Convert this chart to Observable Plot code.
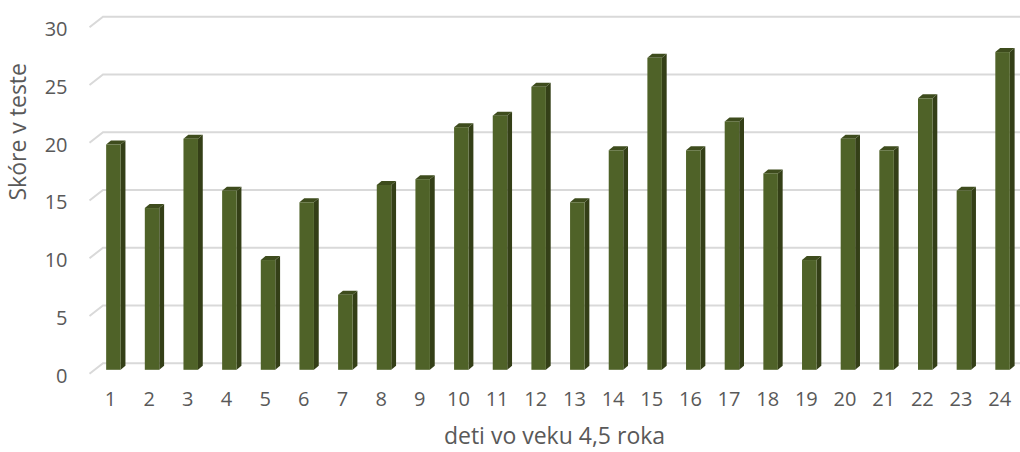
<!DOCTYPE html>
<html>
<head>
<meta charset="utf-8">
<script src="https://cdn.jsdelivr.net/npm/d3@7"></script>
<script src="https://cdn.jsdelivr.net/npm/@observablehq/plot@0.6"></script>
<style>
  html, body { margin: 0; padding: 0; background: #fff; }
  #chart { width: 1020px; height: 452px; }
</style>
</head>
<body>
<div id="chart"></div>
<script>
// Test scores of children aged 4.5 years
const children = d3.range(1, 25).map(String);
const scores = [19.5, 14, 20, 15.5, 9.5, 14.5, 6.5, 16, 16.5, 21, 22, 24.5,
                14.5, 19, 27, 19, 21.5, 17, 9.5, 20, 19, 23.5, 15.5, 27.5];
const yTicks = [0, 5, 10, 15, 20, 25, 30];
const xTitle = "deti vo veku 4,5 roka";
const yTitle = "Skóre v teste";

const data = children.map((child, i) => ({child, score: scores[i]}));

// Styling
const FONT = "'Open Sans', 'DejaVu Sans', sans-serif";
const TEXT = "#595959";
const GRID = "#d9d9d9";
const FRONT = "#4f6228";
const SIDE = "#343f17";
const CAP = "#3e4c1d";
const TICK_SIZE = 20, TITLE_SIZE = 23;

// Oblique depth of the wall (floor-to-back) and of each column
const WALL_DX = 13.5, WALL_DY = 10.5;
const COL_DX = 4.8, COL_DY = 4;
const COL_SHIFT_X = 3.4, COL_DROP_Y = 6.5;

// Gridlines drawn on the back wall, with the slanted segment on the left side wall
function wall(index, scales, values, dimensions) {
  const {y} = scales;
  const g = d3.create("svg:g").attr("fill", "none").attr("stroke", GRID).attr("stroke-width", 2);
  const xBack = dimensions.marginLeft + 36;
  const xEnd = dimensions.width;
  for (const i of index) {
    const yy = y(yTicks[i]);
    g.append("path").attr("d",
      `M${xBack - WALL_DX},${yy + WALL_DY}L${xBack},${yy}L${xEnd},${yy}`);
  }
  return g.node();
}

// 3D-looking columns: front face, right side and top cap
function prism(index, scales) {
  const {x, y} = scales;
  const bw = typeof x.bandwidth === "function" ? x.bandwidth() : x.bandwidth;
  const g = d3.create("svg:g");
  for (const i of index) {
    const d = data[i];
    const x0 = x(d.child) + COL_SHIFT_X, x1 = x0 + bw;
    const yb = y(0) + COL_DROP_Y, yt = y(d.score) + COL_DROP_Y;
    g.append("path").attr("fill", SIDE).attr("d",
      `M${x1},${yt}L${x1 + COL_DX},${yt - COL_DY}L${x1 + COL_DX},${yb - COL_DY}L${x1},${yb}Z`);
    g.append("path").attr("fill", CAP).attr("d",
      `M${x0},${yt}L${x0 + COL_DX},${yt - COL_DY}L${x1 + COL_DX},${yt - COL_DY}L${x1},${yt}Z`);
    g.append("rect").attr("fill", FRONT)
      .attr("x", x0).attr("y", yt).attr("width", bw).attr("height", yb - yt);
  }
  return g.node();
}

const chart = Plot.plot({
  width: 1020,
  height: 452,
  marginLeft: 67,
  marginRight: 0,
  marginTop: 16.7,
  marginBottom: 88.7,
  style: {fontFamily: FONT, background: "#fff", overflow: "visible"},
  x: {type: "band", domain: children, range: [90.67, 1018.5], paddingInner: 0.625, paddingOuter: 0.3125,
      round: false, axis: null},
  y: {domain: [0, 30], range: [363.3, 16.7], axis: null},
  marks: [
    Plot.ruleY(yTicks, {y: d => d, render: wall}),
    Plot.barY(data, {x: "child", y: "score", render: prism}),
    // y tick labels
    Plot.text(yTicks, {y: d => d, text: d => String(d), frameAnchor: "left", textAnchor: "end",
      dy: 12.5, fontSize: TICK_SIZE, fill: TEXT}),
    // x tick labels
    Plot.text(children, {x: d => d, text: d => d, frameAnchor: "bottom", dy: 42.3,
      fontSize: TICK_SIZE, fill: TEXT}),
    // axis titles
    Plot.text([xTitle], {frameAnchor: "bottom", dx: 10.5, dy: 80, fontSize: TITLE_SIZE, fill: TEXT}),
    Plot.text([yTitle], {frameAnchor: "left", rotate: -90, dx: -49, dy: 10, fontSize: TITLE_SIZE, fill: TEXT})
  ]
});

document.getElementById("chart").appendChild(chart);
</script>
</body>
</html>
